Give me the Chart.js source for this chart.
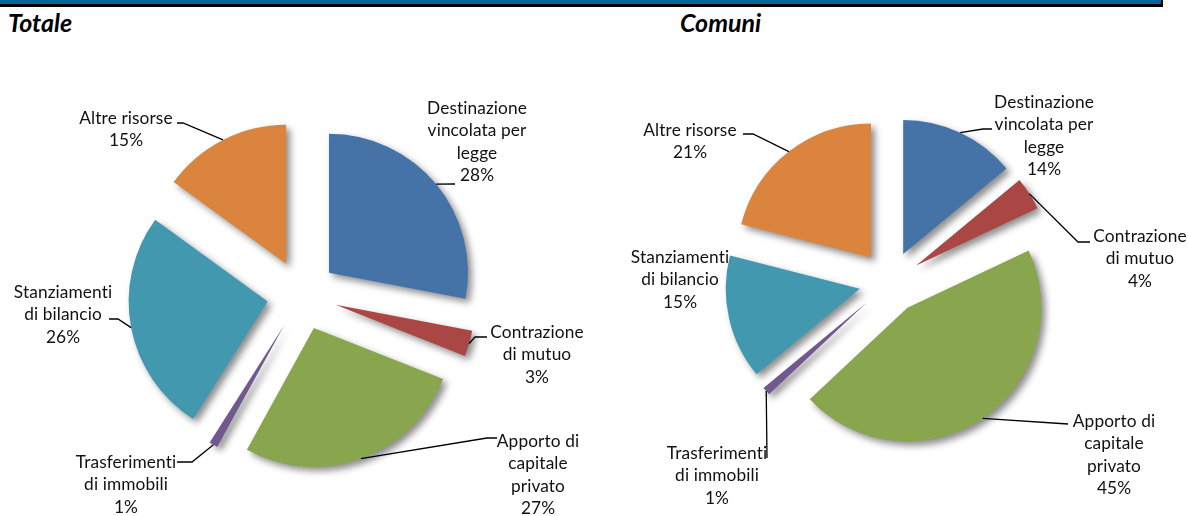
<!DOCTYPE html>
<html>
<head>
<meta charset="utf-8">
<script src="https://cdn.jsdelivr.net/npm/chart.js@4.4.1/dist/chart.umd.min.js"></script>
<style>
  html, body { margin: 0; padding: 0; background: #fff; overflow: hidden; }
  body { width: 1188px; height: 516px; position: relative; font-family: Lato, "Open Sans", sans-serif; }
  .band { position: absolute; left: 0; top: 0; width: 1161px; height: 4px; background: #00669a; border-bottom: 3px solid #000; border-right: 2px solid #000; }
  .title { position: absolute; top: 10px; font-size: 25px; line-height: 25px; font-weight: bold; font-style: italic; color: #000; font-variant-ligatures: none; }
  canvas { position: absolute; }
</style>
</head>
<body>
<div class="band"></div>
<div class="title" style="left:8px">Totale</div>
<div class="title" style="left:680px">Comuni</div>
<canvas id="totale" width="604" height="480" style="left:0;top:55px"></canvas>
<canvas id="comuni" width="600" height="460" style="left:590px;top:52px"></canvas>
<script>
  // slice names, one entry per line of the label
  const categories = [
    ["Destinazione", "vincolata per", "legge"],
    ["Contrazione", "di mutuo"],
    ["Apporto di", "capitale", "privato"],
    ["Trasferimenti", "di immobili"],
    ["Stanziamenti", "di bilancio"],
    ["Altre risorse"]
  ];
  const totaleValues = [28, 3, 27, 1, 26, 15];
  const comuniValues = [14, 4, 45, 1, 15, 21];

  const sliceColors = ["#4572a7", "#aa4643", "#89a54e", "#71588f", "#4198af", "#db843d"];

  // where the labels sit, relative to the pie centre (text = first line centre, leader = bend points)
  const totaleLayout = [
    { text: [175, -187], leader: [[153, -111]] },
    { text: [235, 37], leader: [[173, 42], [185, 42]] },
    { text: [236, 146], leader: [[185, 143], [195, 143]] },
    { text: [-176, 167], leader: [[-110, 167], [-125, 167]] },
    { text: [-239, -3], leader: [[-184, 24], [-193, 24]] },
    { text: [-176, -177], leader: [[-119, -172], [-125, -172]] }
  ];
  const comuniLayout = [
    { text: [154, -180], leader: [[93, -153], [102, -153]] },
    { text: [250, -46], leader: [[188, -40], [200, -40]] },
    { text: [224, 139], leader: [[178, 142]] },
    { text: [-173, 171], leader: [[-123, 176]] },
    { text: [-210, -25], leader: null },
    { text: [-200, -152], leader: [[-137, -148], [-147, -148]] }
  ];

  // push every slice out along its middle angle, same distance for all, with a soft shadow
  const explode = {
    id: "explode",
    beforeDatasetsDraw(chart, args, opts) {
      const ctx = chart.ctx;
      ctx.save();
      ctx.shadowColor = "rgba(0,0,0,0.45)";
      ctx.shadowBlur = 7;
      ctx.shadowOffsetX = 4;
      ctx.shadowOffsetY = 4;
      chart.getDatasetMeta(0).data.forEach(arc => {
        const mid = (arc.startAngle + arc.endAngle) / 2;
        arc.home = { x: arc.x, y: arc.y };
        arc.x += Math.cos(mid) * opts.distance;
        arc.y += Math.sin(mid) * opts.distance;
      });
    },
    afterDatasetsDraw(chart) {
      chart.getDatasetMeta(0).data.forEach(arc => {
        arc.x = arc.home.x;
        arc.y = arc.home.y;
      });
      chart.ctx.restore();
    }
  };

  const sliceLabels = {
    id: "sliceLabels",
    afterDraw(chart, args, opts) {
      const ctx = chart.ctx;
      const arcs = chart.getDatasetMeta(0).data;
      const values = chart.data.datasets[0].data;
      const total = values.reduce((a, b) => a + b, 0);
      ctx.save();
      ctx.font = opts.font;
      ctx.letterSpacing = "0.1px"; // keeps Lato from joining "ti"
      ctx.fillStyle = "#111";
      ctx.strokeStyle = "#000";
      ctx.lineWidth = 1.3;
      ctx.textAlign = "center";
      ctx.textBaseline = "middle";
      arcs.forEach((arc, i) => {
        const place = opts.layout[i];
        const mid = (arc.startAngle + arc.endAngle) / 2;
        const r = arc.outerRadius + opts.distance;
        if (place.leader) {
          ctx.beginPath();
          ctx.moveTo(arc.x + Math.cos(mid) * r, arc.y + Math.sin(mid) * r);
          place.leader.forEach(p => ctx.lineTo(arc.x + p[0], arc.y + p[1]));
          ctx.stroke();
        }
        const lines = categories[i].concat(Math.round(values[i] / total * 100) + "%");
        lines.forEach((t, j) => {
          ctx.fillText(t, arc.x + place.text[0], arc.y + place.text[1] + j * opts.lineHeight);
        });
      });
      ctx.restore();
    }
  };

  function makePie(id, values, radius, distance, layout) {
    return new Chart(document.getElementById(id), {
      type: "pie",
      data: {
        labels: categories.map(c => c.join(" ")),
        datasets: [{
          data: values,
          backgroundColor: sliceColors,
          borderWidth: 0,
          radius: radius
        }]
      },
      options: {
        responsive: false,
        animation: false,
        events: [],
        layout: { padding: 0 },
        plugins: {
          legend: { display: false },
          tooltip: { enabled: false },
          explode: { distance: distance },
          sliceLabels: { distance: distance, layout: layout, font: "17.3px Lato", lineHeight: 22.6 }
        }
      },
      plugins: [explode, sliceLabels]
    });
  }

  makePie("totale", totaleValues, 139, 35, totaleLayout);
  makePie("comuni", comuniValues, 134, 31, comuniLayout);
</script>
</body>
</html>
